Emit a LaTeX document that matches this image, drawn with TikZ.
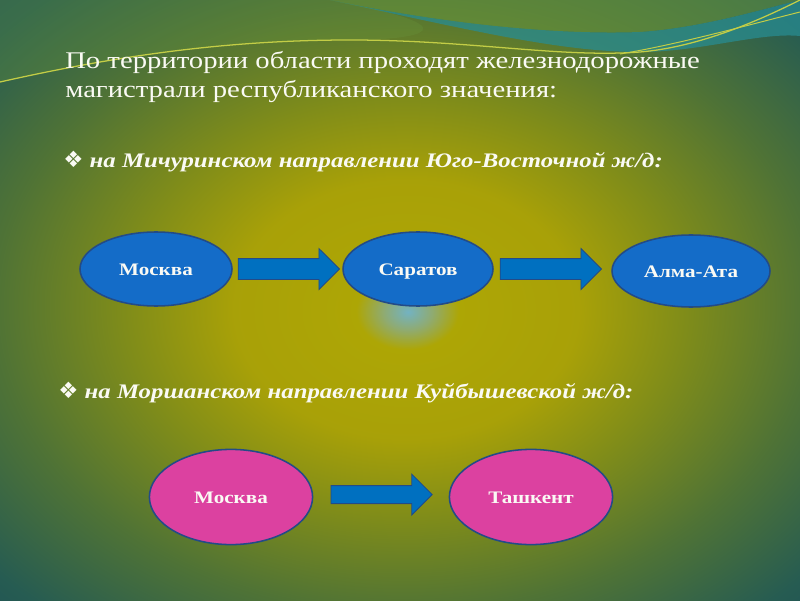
\documentclass[tikz,border=0pt]{standalone}
\usepackage{fontspec}
\setmainfont{Liberation Serif}[FakeStretch=1.2]
\newfontfamily\dingfont{DejaVu Sans}
\usetikzlibrary{positioning, shapes.geometric, shapes.arrows}

\definecolor{cityblue}{RGB}{20,108,200}
\definecolor{citypink}{RGB}{220,65,160}
\definecolor{rimblue}{RGB}{35,75,135}
\definecolor{arrowblue}{RGB}{0,112,192}
\definecolor{ribbonteal}{RGB}{40,140,145}
\definecolor{topgreen}{RGB}{105,150,60}
\definecolor{streak}{RGB}{195,205,70}
\definecolor{chalk}{RGB}{250,250,244}

% bluish glow in the middle, yellow ring, dark teal corners
\pgfdeclareradialshading{slidebg}{\pgfpoint{0.5bp}{-1bp}}{%
  rgb(0bp)=(0.45,0.70,0.76);
  rgb(1.5bp)=(0.56,0.67,0.45);
  rgb(3.2bp)=(0.68,0.65,0.02);
  rgb(10.8bp)=(0.66,0.63,0.03);
  rgb(17.5bp)=(0.50,0.55,0.10);
  rgb(25.6bp)=(0.31,0.45,0.21);
  rgb(33.8bp)=(0.15,0.36,0.32);
  rgb(48.6bp)=(0.04,0.22,0.38)}

\begin{document}
\begin{tikzpicture}[
	city/.style={draw=rimblue, line width=1.1pt, ellipse, fill=cityblue, text=chalk,
		minimum width=3.8cm, minimum height=1.85cm, inner sep=0pt, text height=1.9ex, text depth=0ex,
		font=\bfseries\fontsize{12.5}{14}\selectfont},
	citypink/.style={city, fill=citypink, minimum width=4.08cm, minimum height=2.38cm},
	blockarrow/.style={draw=rimblue, line width=0.6pt, fill=arrowblue, single arrow,
		single arrow head extend=0.25cm, minimum height=2.53cm, inner xsep=0pt, inner ysep=0.25cm},
	heading/.style={text=chalk, anchor=base west, inner sep=0pt, align=left},
	routeline/.style={text=chalk, anchor=base west, inner sep=0pt, font=\bfseries\itshape\fontsize{14.7}{17}\selectfont}
	]

	% background of the slide
	\useasboundingbox (0,0) rectangle (20,15);
	\shade[shading=slidebg] (0,0) rectangle (20,15);
	\begin{scope}
		\clip (0,0) rectangle (20,15);
		\fill[topgreen, opacity=0.55] (8.25,15) .. controls (11.25,14.375) and (14,14.125) .. (16,14.2)
			.. controls (17.5,14.3) and (19,14.75) .. (20,15) -- cycle;
		\fill[ribbonteal, opacity=0.75] (8.25,15) .. controls (11.25,14.375) and (14,14.125) .. (16,14.2)
			.. controls (17.5,14.3) and (19,14.75) .. (20,15) -- (20,14.1)
			.. controls (19,14.2) and (17.5,13.7) .. (16,13.7)
			.. controls (14,13.7) and (11.75,14.25) .. (8.25,15) -- cycle;
		\fill[topgreen, opacity=0.3] (0,12.95) .. controls (3,13.625) and (5.75,14) .. (8.75,14)
			.. controls (10.5,14) and (12,14.3) .. (8.25,15) -- (0,15) -- cycle;
		\draw[streak, line width=0.9pt] (0,12.95) .. controls (3,13.625) and (5.75,14) .. (8.75,14)
			.. controls (11.75,14) and (14,13.55) .. (16,13.7)
			.. controls (17.5,13.825) and (19,14.5) .. (20,15);
		\draw[streak, line width=0.7pt] (15.5,13.65) .. controls (17,13.9) and (18.8,14.4) .. (20,14.7);
	\end{scope}

	% texts
	\node[heading, font=\fontsize{17}{21.3}\selectfont] (intro) at (1.625,12.55)
		{По территории области проходят железнодорожные\\магистрали республиканского значения:};
	\node[routeline] (route1) at (1.575,10.8) {{\dingfont\mdseries\upshape\fontsize{16}{17}\selectfont ❖} на Мичуринском направлении Юго-Восточной ж/д:};
	\node[routeline] (route2) at (1.45,5.05) {{\dingfont\mdseries\upshape\fontsize{16}{17}\selectfont ❖} на Моршанском направлении Куйбышевской ж/д:};

	% first line: Moscow - Saratov - Alma-Ata
	\node[city] (moscowA) at (3.9,8.275) {Москва};
	\node[city, minimum width=3.75cm] (saratov) at (10.45,8.275) {Саратов};
	\node[city, minimum width=3.95cm, minimum height=1.8cm] (almaata) at (17.275,8.225) {Алма-Ата};
	\node[blockarrow, right=0.125cm of moscowA] (arrowA) {};
	\node[blockarrow, right=0.15cm of saratov] (arrowB) {};

	% second line: Moscow - Tashkent
	\node[citypink] (moscowB) at (5.775,2.575) {Москва};
	\node[citypink] (tashkent) at (13.275,2.575) {Ташкент};
	\node[blockarrow, single arrow head extend=0.285cm, inner ysep=0.215cm, right=0.43cm of moscowB, yshift=0.06cm] (arrowC) {};

\end{tikzpicture}
\end{document}
